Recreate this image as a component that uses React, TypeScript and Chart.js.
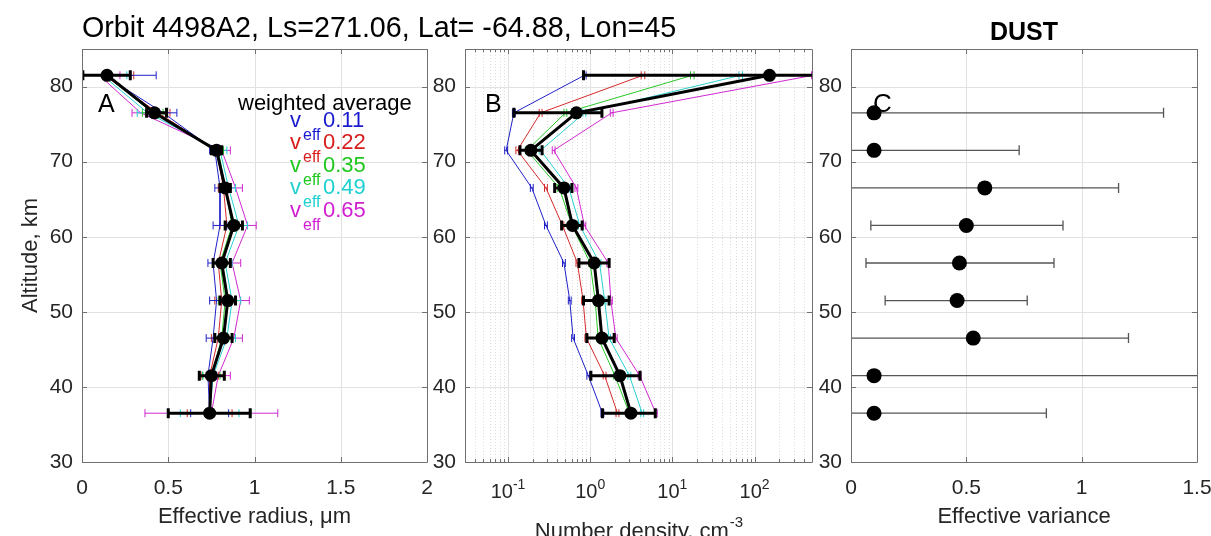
import React, { useEffect, useRef } from "react";
import { Chart, registerables } from "chart.js";

Chart.register(...registerables);

const FONT = "'Liberation Sans', Arial, Helvetica, sans-serif";
const TEXT = "#262626";

// ---------------- data ----------------
const altitudes = [81.5, 76.5, 71.5, 66.5, 61.5, 56.5, 51.5, 46.5, 41.5, 36.5];
const vEffLabels = ["0.11", "0.22", "0.35", "0.49", "0.65"];
const seriesColors = ["#2020c8", "#d42a2a", "#28c828", "#28d0d0", "#d028d0"];
const legendColors = ["#1a1ad0", "#d81c1c", "#1ec81e", "#1ed0d0", "#d01ed0"];

// Panel A: effective radius (um)
const reffAvg = [0.145, 0.42, 0.78, 0.83, 0.88, 0.81, 0.845, 0.82, 0.75, 0.74];
const reffAvgLow = [0.005, 0.375, 0.75, 0.80, 0.83, 0.76, 0.80, 0.77, 0.68, 0.50];
const reffAvgHigh = [0.28, 0.49, 0.81, 0.86, 0.93, 0.86, 0.89, 0.87, 0.825, 0.975];
const reffV011 = [0.13, 0.47, 0.77, 0.80, 0.80, 0.76, 0.78, 0.76, 0.73, 0.74];
const reffV022 = [0.13, 0.44, 0.78, 0.82, 0.84, 0.79, 0.81, 0.79, 0.74, 0.74];
const reffV035 = [0.14, 0.41, 0.79, 0.83, 0.87, 0.80, 0.83, 0.81, 0.75, 0.74];
const reffV049 = [0.12, 0.38, 0.80, 0.85, 0.91, 0.83, 0.87, 0.84, 0.76, 0.74];
const reffV065 = [0.10, 0.34, 0.81, 0.89, 0.96, 0.87, 0.92, 0.88, 0.79, 0.75];
const reffErr011 = [0.30, 0.08, 0.03, 0.03, 0.04, 0.03, 0.04, 0.04, 0.05, 0.11];
const reffErr022 = [0.17, 0.07, 0.03, 0.03, 0.04, 0.03, 0.04, 0.04, 0.05, 0.13];
const reffErr035 = [0.14, 0.06, 0.03, 0.03, 0.04, 0.04, 0.04, 0.04, 0.05, 0.24];
const reffErr049 = [0.14, 0.06, 0.04, 0.04, 0.05, 0.04, 0.05, 0.05, 0.06, 0.17];
const reffErr065 = [0.12, 0.05, 0.05, 0.04, 0.05, 0.05, 0.05, 0.05, 0.07, 0.385];

// Panel B: number density (cm^-3)
const ndAvg = [152, 0.68, 0.19, 0.48, 0.61, 1.12, 1.26, 1.39, 2.3, 3.13];
const ndAvgLow = [0.83, 0.118, 0.14, 0.37, 0.45, 0.73, 0.83, 0.91, 1.02, 1.41];
const ndAvgHigh = [2000, 1.39, 0.26, 0.60, 0.80, 1.7, 1.7, 1.96, 4.04, 6.2];
const ndV011 = [0.85, 0.118, 0.095, 0.195, 0.29, 0.48, 0.565, 0.62, 0.95, 1.41];
const ndV022 = [4.4, 0.25, 0.13, 0.29, 0.46, 0.70, 0.82, 0.90, 1.5, 2.15];
const ndV035 = [17.5, 0.5, 0.17, 0.42, 0.60, 1.0, 1.15, 1.25, 2.0, 3.0];
const ndV049 = [68, 0.85, 0.25, 0.55, 0.75, 1.3, 1.5, 1.7, 3.0, 4.3];
const ndV065 = [520, 1.83, 0.36, 0.68, 0.85, 1.66, 1.79, 2.05, 4.0, 6.3];
const ndColorErrFrac = [0.05, 0.04, 0.04, 0.04, 0.04, 0.04, 0.04, 0.04, 0.04, 0.04];

// Panel C: effective variance
const varAlt = [76.5, 71.5, 66.5, 61.5, 56.5, 51.5, 46.5, 41.5, 36.5];
const varVal = [0.10, 0.10, 0.58, 0.50, 0.47, 0.46, 0.53, 0.10, 0.10];
const varLow = [-0.2, -0.3, 0.0, 0.086, 0.065, 0.148, -0.1, -0.6, -0.2];
const varHigh = [1.355, 0.729, 1.16, 0.919, 0.88, 0.764, 1.203, 1.8, 0.847];

// ticks
const altTicks = [30, 40, 50, 60, 70, 80];
const reffTicks = [0, 0.5, 1, 1.5, 2];
const ndTicks = [0.1, 1, 10, 100];
const ndTickExp = ["-1", "0", "1", "2"];
const ndMinor = [
  0.03, 0.04, 0.05, 0.06, 0.07, 0.08, 0.09,
  0.2, 0.3, 0.4, 0.5, 0.6, 0.7, 0.8, 0.9,
  2, 3, 4, 5, 6, 7, 8, 9,
  20, 30, 40, 50, 60, 70, 80, 90,
  200, 300, 400,
];
const varTicks = [0, 0.5, 1, 1.5];

const titleText = "Orbit 4498A2, Ls=271.06, Lat= -64.88, Lon=45";

// ---------------- helpers ----------------
const pts = (xs: number[], ys: number[]) => xs.map((x, i) => ({ x, y: ys[i] }));

const errorBarPlugin = {
  id: "errBars",
  beforeDatasetDraw(chart: any, args: any) {
    const ds: any = chart.data.datasets[args.index];
    if (!ds.errLow) return;
    const { ctx, chartArea: a, scales } = chart;
    const x = scales.x;
    const y = scales.y;
    ctx.save();
    ctx.beginPath();
    ctx.rect(a.left, a.top, a.right - a.left, a.bottom - a.top);
    ctx.clip();
    ctx.strokeStyle = ds.errColor;
    ctx.lineWidth = ds.errWidth;
    const cap = ds.errCap;
    ds.data.forEach((p: any, i: number) => {
      const py = y.getPixelForValue(p.y);
      const x1 = x.getPixelForValue(ds.errLow[i]);
      const x2 = x.getPixelForValue(ds.errHigh[i]);
      ctx.beginPath();
      ctx.moveTo(x1, py);
      ctx.lineTo(x2, py);
      ctx.moveTo(x1, py - cap);
      ctx.lineTo(x1, py + cap);
      ctx.moveTo(x2, py - cap);
      ctx.lineTo(x2, py + cap);
      ctx.stroke();
    });
    ctx.restore();
  },
};

function boxPlugin(xMajor: number[], xMinor: number[]) {
  return {
    id: "box",
    beforeDatasetsDraw(chart: any) {
      const { ctx, chartArea: a, scales } = chart;
      const x = scales.x;
      const y = scales.y;
      ctx.save();
      ctx.lineWidth = 1;
      ctx.strokeStyle = "#dcdcdc";
      ctx.setLineDash([1, 2]);
      xMinor.forEach((v) => {
        const px = Math.round(x.getPixelForValue(v)) + 0.5;
        ctx.beginPath();
        ctx.moveTo(px, a.top);
        ctx.lineTo(px, a.bottom);
        ctx.stroke();
      });
      ctx.setLineDash([]);
      ctx.strokeStyle = "#e2e2e2";
      xMajor.forEach((v) => {
        const px = Math.round(x.getPixelForValue(v)) + 0.5;
        ctx.beginPath();
        ctx.moveTo(px, a.top);
        ctx.lineTo(px, a.bottom);
        ctx.stroke();
      });
      altTicks.forEach((v) => {
        const py = Math.round(y.getPixelForValue(v)) + 0.5;
        ctx.beginPath();
        ctx.moveTo(a.left, py);
        ctx.lineTo(a.right, py);
        ctx.stroke();
      });
      ctx.restore();
    },
    afterDatasetsDraw(chart: any) {
      const { ctx, chartArea: a, scales } = chart;
      const x = scales.x;
      const y = scales.y;
      ctx.save();
      ctx.strokeStyle = "#707070";
      ctx.lineWidth = 1;
      ctx.beginPath();
      ctx.rect(Math.round(a.left) + 0.5, Math.round(a.top) + 0.5, Math.round(a.right - a.left), Math.round(a.bottom - a.top));
      ctx.stroke();
      const tick = (vals: number[], len: number) => {
        vals.forEach((v) => {
          const px = Math.round(x.getPixelForValue(v)) + 0.5;
          ctx.beginPath();
          ctx.moveTo(px, a.bottom);
          ctx.lineTo(px, a.bottom - len);
          ctx.moveTo(px, a.top);
          ctx.lineTo(px, a.top + len);
          ctx.stroke();
        });
      };
      tick(xMajor, 5);
      tick(xMinor, 3);
      altTicks.forEach((v) => {
        const py = Math.round(y.getPixelForValue(v)) + 0.5;
        ctx.beginPath();
        ctx.moveTo(a.left, py);
        ctx.lineTo(a.left + 5, py);
        ctx.moveTo(a.right, py);
        ctx.lineTo(a.right - 5, py);
        ctx.stroke();
      });
      ctx.restore();
    },
  };
}

function yAxis(showTitle: boolean, width: number) {
  return {
    type: "linear",
    min: 30,
    max: 85,
    afterBuildTicks: (s: any) => {
      s.ticks = altTicks.map((v) => ({ value: v }));
    },
    afterFit: (s: any) => {
      s.width = width;
      s.paddingTop = 0;
      s.paddingBottom = 0;
    },
    grid: { display: false, drawTicks: false },
    border: { display: false },
    ticks: {
      font: { family: FONT, size: 21 },
      color: TEXT,
      padding: 9,
      autoSkip: false,
      callback: (v: any) => String(v),
    },
    title: {
      display: showTitle,
      text: "Altitude, km",
      font: { family: FONT, size: 22 },
      color: TEXT,
      padding: { top: 4, bottom: 0 },
    },
  };
}

function xAxis(type: string, min: number, max: number, ticks: number[], showLabels: boolean, title: string) {
  return {
    type,
    min,
    max,
    afterBuildTicks: (s: any) => {
      s.ticks = ticks.map((v) => ({ value: v }));
    },
    afterFit: (s: any) => {
      s.height = 74;
      s.paddingLeft = 0;
      s.paddingRight = 0;
    },
    grid: { display: false, drawTicks: false },
    border: { display: false },
    ticks: {
      display: showLabels,
      font: { family: FONT, size: 21 },
      color: TEXT,
      padding: 14,
      maxRotation: 0,
      autoSkip: false,
      callback: (v: any) => String(v),
    },
    title: {
      display: title.length > 0,
      text: title,
      font: { family: FONT, size: 22 },
      color: TEXT,
      padding: { top: 0, bottom: 6 },
    },
  };
}

function baseOptions(pad: any, xOpts: any, yOpts: any) {
  return {
    responsive: false,
    animation: false,
    devicePixelRatio: 1,
    layout: { padding: pad },
    plugins: { legend: { display: false }, tooltip: { enabled: false }, title: { display: false } },
    scales: { x: xOpts, y: yOpts },
  };
}

function colorDatasets(values: number[][], lows: number[][], highs: number[][]) {
  return values.map((vals, k) => ({
    data: pts(vals, altitudes),
    showLine: true,
    borderColor: seriesColors[k],
    backgroundColor: seriesColors[k],
    borderWidth: 1,
    pointRadius: 0,
    errLow: lows[k],
    errHigh: highs[k],
    errColor: seriesColors[k],
    errWidth: 1,
    errCap: 4,
  }));
}

function blackDataset(vals: number[], low: number[], high: number[]) {
  return {
    data: pts(vals, altitudes),
    showLine: true,
    borderColor: "#000",
    backgroundColor: "#000",
    borderWidth: 3,
    pointRadius: 6.5,
    pointBorderWidth: 0,
    errLow: low,
    errHigh: high,
    errColor: "#000",
    errWidth: 3,
    errCap: 5,
  };
}

// ---------------- charts ----------------
function makeA(canvas: HTMLCanvasElement) {
  const vals = [reffV011, reffV022, reffV035, reffV049, reffV065];
  const errs = [reffErr011, reffErr022, reffErr035, reffErr049, reffErr065];
  const lows = vals.map((v, k) => v.map((x, i) => x - errs[k][i]));
  const highs = vals.map((v, k) => v.map((x, i) => x + errs[k][i]));
  const deco = {
    id: "decoA",
    afterDraw(chart: any) {
      const { ctx, chartArea: a } = chart;
      ctx.save();
      ctx.textAlign = "left";
      ctx.textBaseline = "alphabetic";
      ctx.fillStyle = "#000";
      ctx.font = `28.7px ${FONT}`;
      ctx.fillText(titleText, a.left, 37);
      ctx.font = `25px ${FONT}`;
      ctx.fillText("A", a.left + 16, 112);
      ctx.font = `22px ${FONT}`;
      ctx.fillText("weighted average", a.left + 156, 109.5);
      vEffLabels.forEach((lab, i) => {
        const base = 127 + i * 22.4;
        ctx.fillStyle = legendColors[i];
        ctx.font = `22px ${FONT}`;
        ctx.fillText("v", a.left + 208, base);
        ctx.font = `16px ${FONT}`;
        ctx.fillText("eff", a.left + 221, base + 13);
        ctx.font = `22px ${FONT}`;
        ctx.fillText(lab, a.left + 241, base);
      });
      ctx.restore();
    },
  };
  return new Chart(canvas, {
    type: "scatter",
    data: {
      datasets: [blackDataset(reffAvg, reffAvgLow, reffAvgHigh), ...colorDatasets(vals, lows, highs)] as any,
    },
    options: baseOptions(
      { left: 14, right: 1211 - 427, top: 49, bottom: 0 },
      xAxis("linear", 0, 2, reffTicks, true, "Effective radius, \u03bcm"),
      yAxis(true, 68)
    ) as any,
    plugins: [boxPlugin(reffTicks, []), deco],
  });
}

function makeB(canvas: HTMLCanvasElement) {
  const vals = [ndV011, ndV022, ndV035, ndV049, ndV065];
  const lows = vals.map((v) => v.map((x, i) => x * (1 - ndColorErrFrac[i])));
  const highs = vals.map((v) => v.map((x, i) => x * (1 + ndColorErrFrac[i])));
  const deco = {
    id: "decoB",
    afterDraw(chart: any) {
      const { ctx, chartArea: a, scales } = chart;
      const x = scales.x;
      ctx.save();
      ctx.textAlign = "left";
      ctx.textBaseline = "alphabetic";
      ctx.fillStyle = "#000";
      ctx.font = `25px ${FONT}`;
      ctx.fillText("B", a.left + 20, 112);
      ctx.fillStyle = TEXT;
      ndTicks.forEach((v, i) => {
        const px = x.getPixelForValue(v);
        ctx.font = `20px ${FONT}`;
        const w1 = ctx.measureText("10").width;
        ctx.font = `14px ${FONT}`;
        const w2 = ctx.measureText(ndTickExp[i]).width;
        const start = px - (w1 + w2) / 2;
        ctx.font = `20px ${FONT}`;
        ctx.fillText("10", start, 498);
        ctx.font = `14px ${FONT}`;
        ctx.fillText(ndTickExp[i], start + w1, 489);
      });
      ctx.font = `22px ${FONT}`;
      const main = "Number density, cm";
      const wm = ctx.measureText(main).width;
      ctx.font = `15px ${FONT}`;
      const we = ctx.measureText("-3").width;
      const cx = (a.left + a.right) / 2;
      const s = cx - (wm + we) / 2;
      ctx.font = `22px ${FONT}`;
      ctx.fillText(main, s, 538);
      ctx.font = `15px ${FONT}`;
      ctx.fillText("-3", s + wm + 1, 527);
      ctx.restore();
    },
  };
  return new Chart(canvas, {
    type: "scatter",
    data: {
      datasets: [blackDataset(ndAvg, ndAvgLow, ndAvgHigh), ...colorDatasets(vals, lows, highs)] as any,
    },
    options: baseOptions(
      { left: 425, right: 1211 - 812, top: 49, bottom: 0 },
      xAxis("logarithmic", 0.03, 500, ndTicks, false, ""),
      yAxis(false, 40)
    ) as any,
    plugins: [boxPlugin(ndTicks, ndMinor), deco],
  });
}

function makeC(canvas: HTMLCanvasElement) {
  const deco = {
    id: "decoC",
    afterDraw(chart: any) {
      const { ctx, chartArea: a } = chart;
      ctx.save();
      ctx.textBaseline = "alphabetic";
      ctx.fillStyle = "#000";
      ctx.textAlign = "left";
      ctx.font = `26px ${FONT}`;
      ctx.fillText("C", a.left + 22, 112);
      ctx.textAlign = "center";
      ctx.font = `bold 25px ${FONT}`;
      ctx.fillText("DUST", (a.left + a.right) / 2, 40);
      ctx.restore();
    },
  };
  return new Chart(canvas, {
    type: "scatter",
    data: {
      datasets: [
        {
          data: pts(varVal, varAlt),
          showLine: false,
          borderColor: "#000",
          backgroundColor: "#000",
          pointRadius: 7.5,
          pointBorderWidth: 0,
          errLow: varLow,
          errHigh: varHigh,
          errColor: "#555555",
          errWidth: 1.3,
          errCap: 5,
        },
      ] as any,
    },
    options: baseOptions(
      { left: 811, right: 14, top: 49, bottom: 0 },
      xAxis("linear", 0, 1.5, varTicks, true, "Effective variance"),
      yAxis(false, 40)
    ) as any,
    plugins: [boxPlugin(varTicks, []), deco],
  });
}

Chart.register(errorBarPlugin as any);

export default function App() {
  const refA = useRef<HTMLCanvasElement>(null);
  const refB = useRef<HTMLCanvasElement>(null);
  const refC = useRef<HTMLCanvasElement>(null);

  useEffect(() => {
    document.body.style.margin = "0";
    const charts = [makeA(refA.current!), makeB(refB.current!), makeC(refC.current!)];
    return () => charts.forEach((c) => c.destroy());
  }, []);

  const cs: React.CSSProperties = { position: "absolute", left: 0, top: 0, width: 1211, height: 536 };
  return (
    <div style={{ position: "relative", width: 1211, height: 536, background: "#fff", overflow: "hidden" }}>
      <canvas ref={refA} width={1211} height={536} style={cs} />
      <canvas ref={refB} width={1211} height={536} style={cs} />
      <canvas ref={refC} width={1211} height={536} style={cs} />
    </div>
  );
}
